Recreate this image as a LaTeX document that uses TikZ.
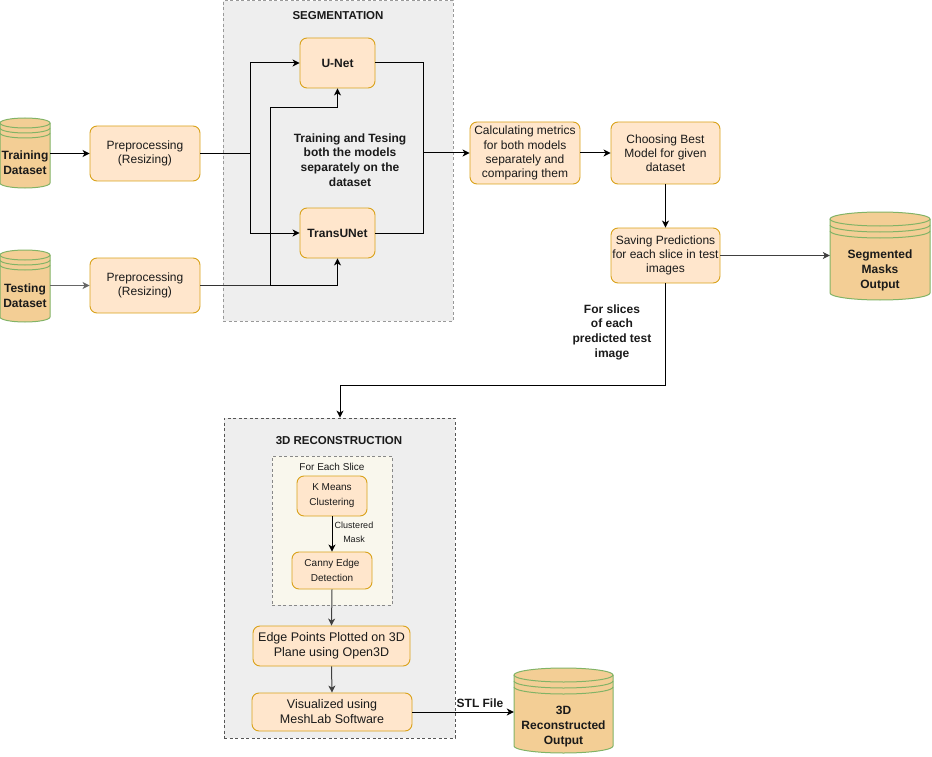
\documentclass[tikz,border=0pt]{standalone}
\usepackage{fontspec}
\setmainfont{Liberation Sans}
\usetikzlibrary{arrows.meta}
\definecolor{boxfill}{HTML}{FFE6CC}
\definecolor{boxline}{HTML}{D9A21A}
\definecolor{cylfill}{HTML}{F3CE95}
\definecolor{cylline}{HTML}{82B366}
\definecolor{grpfill}{HTML}{EEEEEE}
\definecolor{grpline}{HTML}{999999}
\definecolor{grpline2}{HTML}{555555}
\definecolor{innerfill}{HTML}{F9F7ED}
\definecolor{innerline}{HTML}{888888}
\definecolor{txt}{HTML}{1A1A1A}
\tikzset{
  box/.style={draw=boxline, fill=boxfill, rounded corners=7pt, align=center, inner sep=1pt,
    font=\fontsize{12}{14.2}\selectfont, line width=0.9pt, text=txt},
  smallbox/.style={box, font=\fontsize{10}{15}\selectfont},
  boldbox/.style={box, font=\bfseries\fontsize{12}{14.2}\selectfont},
  cyltext/.style={align=center, inner sep=0pt, font=\bfseries\fontsize{12}{15}\selectfont, text=txt},
  lbl/.style={align=center, inner sep=0pt, font=\bfseries\fontsize{12}{14.7}\selectfont, text=txt},
  ttl/.style={inner sep=0pt, font=\bfseries\fontsize{11.5}{14}\selectfont, text=txt},
  grp/.style={draw=grpline, fill=grpfill, line width=1pt, dash pattern=on 3pt off 2.5pt, inner sep=0pt},
  grpb/.style={draw=grpline2, fill=grpfill, line width=0.8pt, dash pattern=on 3pt off 2.5pt, inner sep=0pt},
  innergrp/.style={draw=innerline, fill=innerfill, line width=1pt, dash pattern=on 3pt off 2.5pt, inner sep=0pt},
  arr/.style={draw=black, line width=1pt, -{Stealth[length=7pt,width=7pt,inset=2pt]}},
  ln/.style={draw=black, line width=1pt},
  garr/.style={arr, draw=black!60},
  darr/.style={arr, draw=black!75},
}
% name, left, top, right, bottom, ry, gap, text y, text
\newcommand\cylshape[9]{%
  \node[inner sep=0pt, minimum width={(#4-#2)*1pt}, minimum height={(#5-#3)*1pt}] (#1) at ({(#2+#4)/2},{-(#3+#5)/2}) {};
  \pgfmathsetmacro\cylcx{(#2+#4)/2}%
  \pgfmathsetmacro\cylrx{(#4-#2)/2}%
  \fill[cylfill] (#2,-#3-#6) -- (#2,-#5+#6) arc[start angle=180,end angle=360,x radius=\cylrx pt,y radius=#6 pt] -- (#4,-#3-#6) arc[start angle=0,end angle=180,x radius=\cylrx pt,y radius=#6 pt] -- cycle;
  \draw[cylline, line width=1pt] (#2,-#3-#6) -- (#2,-#5+#6) arc[start angle=180,end angle=360,x radius=\cylrx pt,y radius=#6 pt] -- (#4,-#3-#6);
  \draw[cylline, line width=1pt] (\cylcx,-#3-#6) ellipse[x radius=\cylrx pt, y radius=#6 pt];
  \draw[cylline, line width=1pt] (#2,-#3-#6-#7) arc[start angle=180,end angle=360,x radius=\cylrx pt,y radius=#6 pt];
  \draw[cylline, line width=1pt] (#2,-#3-#6-2*#7) arc[start angle=180,end angle=360,x radius=\cylrx pt,y radius=#6 pt];
  \node[cyltext] (#1-t) at (\cylcx,-#8) {#9};
}
\begin{document}
\begin{tikzpicture}[x=1pt,y=1pt]
\useasboundingbox (0,0) rectangle (932,-757);

% groups
\node[grp, minimum width=230pt, minimum height=320pt] (gseg) at (338,-161) {};
\node[ttl] (tseg) at (338,-16) {SEGMENTATION};
\node[grpb, minimum width=231pt, minimum height=320pt] (g3d) at (339.5,-578) {};
\node[ttl] (t3d) at (339,-441) {3D RECONSTRUCTION};
\node[innergrp, minimum width=120pt, minimum height=149pt] (gin) at (332,-530.5) {};
\node[inner sep=0pt, font=\fontsize{10}{12}\selectfont, text=txt] (tin) at (332,-467) {For Each Slice};

% cylinders
\cylshape{train}{0}{118}{50}{188}{5}{5}{163}{Training\\Dataset}
\cylshape{test}{0}{250}{50}{322}{5}{5}{296}{Testing\\Dataset}
\cylshape{masks}{830}{212}{930}{300}{7}{6}{270}{Segmented\\Masks\\Output}
\cylshape{recon}{514}{668}{613}{753}{7}{6}{727}{3D\\Reconstructed\\Output}

% boxes
\node[box, minimum width=110pt, minimum height=55pt] (pre1) at (145,-153.5) {Preprocessing\\(Resizing)};
\node[box, minimum width=110pt, minimum height=55pt] (pre2) at (145,-285.5) {Preprocessing\\(Resizing)};
\node[boldbox, minimum width=75pt, minimum height=50pt] (unet) at (337.5,-63) {U-Net};
\node[boldbox, minimum width=75pt, minimum height=50pt] (trans) at (337.5,-233) {TransUNet};
\node[box, minimum width=110pt, minimum height=62pt] (calc) at (525,-153) {Calculating metrics\\for both models\\separately and\\comparing them};
\node[box, minimum width=109pt, minimum height=62pt] (choose) at (665.5,-153) {Choosing Best\\Model for given\\dataset};
\node[box, minimum width=109pt, minimum height=55pt] (save) at (665.5,-255.5) {Saving Predictions\\for each slice in test\\images};
\node[smallbox, minimum width=70pt, minimum height=40pt] (kmeans) at (332,-496) {K Means\\Clustering};
\node[smallbox, minimum width=80pt, minimum height=37pt] (canny) at (332,-570.5) {Canny Edge\\Detection};
\node[box, font=\fontsize{12.5}{15}\selectfont, minimum width=157pt, minimum height=40pt] (edge) at (331.5,-646) {Edge Points Plotted on 3D\\Plane using Open3D};
\node[box, font=\fontsize{12.5}{15}\selectfont, minimum width=160pt, minimum height=38pt] (vis) at (332,-712) {Visualized using\\MeshLab Software};

% labels
\node[lbl] (lmid) at (350,-160) {Training and Tesing\\both the models\\separately on the\\dataset};
\node[lbl] (lslice) at (612,-332) {For slices\\of each\\predicted test\\image};
\node[align=center, inner sep=0pt, font=\fontsize{9}{14}\selectfont, text=txt] (lclus) at (354,-532) {Clustered\\Mask};
\node[lbl] (lstl) at (480,-703) {STL File};

% junctions
\coordinate (j1) at (250,-153.5);
\coordinate (j2) at (270,-285.5);
\coordinate (j3) at (337.5,-108);
\coordinate (j4) at (423,-153);
\coordinate (j5) at (340,-385);

% connectors
\draw[arr] (train.east |- 0,-153.5) -- (pre1.west);
\draw[garr] (test.east |- 0,-285.5) -- (pre2.west);
\draw[ln] (pre1.east) -- (j1);
\draw[arr] (j1) |- (unet.west);
\draw[arr] (j1) |- (trans.west);
\draw[ln, draw=black!80] (pre2.east) -- (j2);
\draw[arr] (j2) |- (j3) -- (unet.south);
\draw[arr] (j2) -| (trans.south);
\draw[ln] (unet.east) -| (j4);
\draw[ln] (trans.east) -| (j4);
\draw[arr] (j4) -- (calc.west);
\draw[arr] (calc.east) -- (choose.west);
\draw[arr] (choose.south) -- (save.north);
\draw[darr] (save.east) -- (masks.west |- save.east);
\draw[arr] (save.south) |- (j5) -- (j5 |- g3d.north);
\draw[arr] (kmeans.south) -- (canny.north);
\draw[darr] (canny.south) -- (edge.north);
\draw[darr] (edge.south) -- (vis.north);
\draw[arr] (vis.east) -- (recon.west |- vis.east);
\end{tikzpicture}
\end{document}
